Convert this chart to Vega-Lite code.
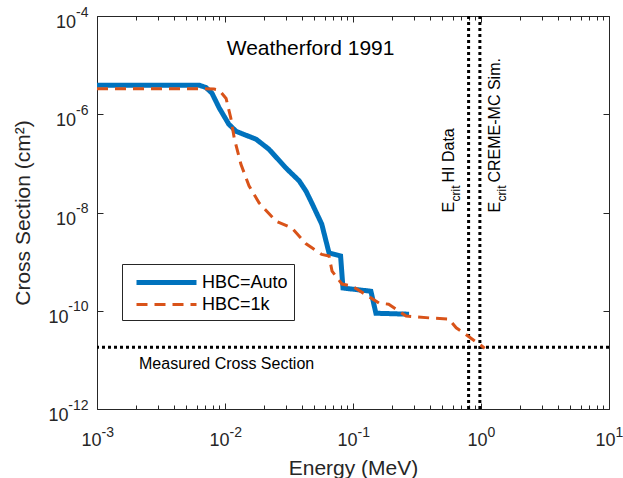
{
  "$schema": "https://vega.github.io/schema/vega-lite/v6.json",
  "width": 512,
  "height": 393,
  "padding": {"left": 12, "top": 5, "right": 5, "bottom": 0},
  "background": "white",
  "config": {
    "view": {"stroke": "#262626", "strokeWidth": 1},
    "font": "Liberation Sans",
    "axis": {
      "grid": false, "domain": false, "labelColor": "#262626", "titleColor": "#262626",
      "tickColor": "#262626", "labelFont": "Liberation Sans", "titleFont": "Liberation Sans",
      "titleFontWeight": "normal", "labelFlush": false, "labelOverlap": false, "labelBound": false
    },
    "legend": {
      "labelFont": "Liberation Sans", "labelFontSize": 18, "labelColor": "#000000",
      "labelOffset": 49, "padding": 6, "rowPadding": 0, "strokeColor": "#262626",
      "fillColor": "white", "labelLimit": 0
    }
  },
  "datasets": {
    "series": [
      {"series": "HBC=Auto", "E": 0.001, "S": 3.9e-6},
      {"series": "HBC=Auto", "E": 0.0063, "S": 3.9e-6},
      {"series": "HBC=Auto", "E": 0.0071, "S": 3.5e-6},
      {"series": "HBC=Auto", "E": 0.0079, "S": 2.7e-6},
      {"series": "HBC=Auto", "E": 0.009, "S": 1.35e-6},
      {"series": "HBC=Auto", "E": 0.0107, "S": 6.3e-7},
      {"series": "HBC=Auto", "E": 0.0122, "S": 4.5e-7},
      {"series": "HBC=Auto", "E": 0.0175, "S": 3.1e-7},
      {"series": "HBC=Auto", "E": 0.022, "S": 1.95e-7},
      {"series": "HBC=Auto", "E": 0.03, "S": 8.0e-8},
      {"series": "HBC=Auto", "E": 0.038, "S": 4.4e-8},
      {"series": "HBC=Auto", "E": 0.043, "S": 2.7e-8},
      {"series": "HBC=Auto", "E": 0.048, "S": 1.5e-8},
      {"series": "HBC=Auto", "E": 0.057, "S": 5.8e-9},
      {"series": "HBC=Auto", "E": 0.065, "S": 1.5e-9},
      {"series": "HBC=Auto", "E": 0.08, "S": 1.3e-9},
      {"series": "HBC=Auto", "E": 0.0835, "S": 2.9e-10},
      {"series": "HBC=Auto", "E": 0.138, "S": 2.5e-10},
      {"series": "HBC=Auto", "E": 0.151, "S": 8.9e-11},
      {"series": "HBC=Auto", "E": 0.274, "S": 8.5e-11},
      {"series": "HBC=1k", "E": 0.001, "S": 3.3e-6},
      {"series": "HBC=1k", "E": 0.0069, "S": 3.3e-6},
      {"series": "HBC=1k", "E": 0.0082, "S": 3.25e-6},
      {"series": "HBC=1k", "E": 0.009, "S": 3.1e-6},
      {"series": "HBC=1k", "E": 0.0102, "S": 2.1e-6},
      {"series": "HBC=1k", "E": 0.0111, "S": 8.4e-7},
      {"series": "HBC=1k", "E": 0.0118, "S": 3.3e-7},
      {"series": "HBC=1k", "E": 0.0133, "S": 9.7e-8},
      {"series": "HBC=1k", "E": 0.0154, "S": 3.5e-8},
      {"series": "HBC=1k", "E": 0.0185, "S": 1.56e-8},
      {"series": "HBC=1k", "E": 0.025, "S": 6.7e-9},
      {"series": "HBC=1k", "E": 0.0334, "S": 4.8e-9},
      {"series": "HBC=1k", "E": 0.043, "S": 2.3e-9},
      {"series": "HBC=1k", "E": 0.057, "S": 1.4e-9},
      {"series": "HBC=1k", "E": 0.065, "S": 1.3e-9},
      {"series": "HBC=1k", "E": 0.0686, "S": 6.4e-10},
      {"series": "HBC=1k", "E": 0.082, "S": 3.5e-10},
      {"series": "HBC=1k", "E": 0.098, "S": 3.2e-10},
      {"series": "HBC=1k", "E": 0.16, "S": 1.43e-10},
      {"series": "HBC=1k", "E": 0.19, "S": 1.36e-10},
      {"series": "HBC=1k", "E": 0.26, "S": 7.8e-11},
      {"series": "HBC=1k", "E": 0.41, "S": 7.1e-11},
      {"series": "HBC=1k", "E": 0.56, "S": 6.8e-11},
      {"series": "HBC=1k", "E": 0.64, "S": 4.5e-11},
      {"series": "HBC=1k", "E": 0.76, "S": 3.3e-11},
      {"series": "HBC=1k", "E": 0.965, "S": 2.1e-11},
      {"series": "HBC=1k", "E": 1.07, "S": 1.73e-11}
    ],
    "vlines": [
      {"E": 0.8, "label": "HI Data"},
      {"E": 0.98, "label": "CREME-MC Sim."}
    ],
    "hline": [
      {"S": 1.8e-11, "label": "Measured Cross Section"}
    ]
  },
  "layer": [
    {
      "data": {"name": "hline"},
      "mark": {"type": "rule", "strokeDash": [3, 3], "strokeWidth": 3, "color": "#000000"},
      "encoding": {
        "y": {
          "field": "S", "type": "quantitative",
          "scale": {"type": "log", "domain": [1e-12, 1e-4]},
          "axis": {
            "orient": "left", "values": [1e-12, 1e-10, 1e-8, 1e-6, 1e-4],
            "labelExpr": "'' + round(log(datum.value)/LN10)",
            "labelFontSize": 14, "labelBaseline": "alphabetic", "labelAlign": "right",
            "labelPadding": 9, "ticks": false, "tickSize": 0, "title": null
          }
        }
      }
    },
    {
      "data": {"name": "vlines"},
      "mark": {"type": "rule", "strokeDash": [3, 3], "strokeWidth": 3, "color": "#000000"},
      "encoding": {
        "x": {
          "field": "E", "type": "quantitative",
          "scale": {"type": "log", "domain": [0.001, 10]},
          "axis": {
            "orient": "bottom", "values": [0.001, 0.01, 0.1, 1, 10],
            "labelExpr": "'' + round(log(datum.value)/LN10)",
            "labelFontSize": 14, "labelBaseline": "alphabetic", "labelAlign": "left",
            "labelOffset": {"condition": {"test": "datum.value < 0.5", "value": 4}, "value": 6},
            "labelPadding": 27, "ticks": false, "tickSize": 0, "title": null
          }
        }
      }
    },
    {
      "data": {"name": "series"},
      "mark": {"type": "line", "clip": true},
      "encoding": {
        "x": {
          "field": "E", "type": "quantitative",
          "scale": {"type": "log", "domain": [0.001, 10]},
          "axis": {
            "orient": "bottom", "values": [0.001, 0.01, 0.1, 1, 10],
            "labelExpr": "'10'", "labelFontSize": 18, "labelBaseline": "alphabetic",
            "labelOffset": {"condition": {"test": "datum.value < 0.5", "value": -6}, "value": -4},
            "labelPadding": 36, "ticks": false, "tickSize": 0,
            "title": "Energy (MeV)", "titleFontSize": 21, "titlePadding": 8
          }
        },
        "y": {
          "field": "S", "type": "quantitative",
          "scale": {"type": "log", "domain": [1e-12, 1e-4]},
          "axis": {
            "orient": "left", "values": [1e-12, 1e-10, 1e-8, 1e-6, 1e-4],
            "labelExpr": "'10'", "labelFontSize": 18, "labelBaseline": "alphabetic",
            "labelAlign": "right", "labelOffset": 11.5,
            "labelPadding": {"condition": {"test": "datum.value < 1e-9", "value": 29}, "value": 21.5},
            "ticks": false, "tickSize": 0,
            "title": "Cross Section (cm²)", "titleFontSize": 21, "titlePadding": 14
          }
        },
        "color": {
          "field": "series", "type": "nominal",
          "scale": {"domain": ["HBC=Auto", "HBC=1k"], "range": ["#0072BD", "#D95319"]},
          "legend": {"orient": "none", "legendX": 25, "legendY": 248, "title": null, "symbolType": "M-0.4,0H5.6", "symbolSize": 400}
        },
        "strokeDash": {
          "field": "series", "type": "nominal",
          "scale": {"domain": ["HBC=Auto", "HBC=1k"], "range": [[1, 0], [11, 7]]},
          "legend": {"orient": "none", "legendX": 25, "legendY": 248, "title": null, "symbolType": "M-0.4,0H5.6", "symbolSize": 400}
        },
        "strokeWidth": {
          "field": "series", "type": "nominal",
          "scale": {"domain": ["HBC=Auto", "HBC=1k"], "range": [5, 3]},
          "legend": {"orient": "none", "legendX": 25, "legendY": 248, "title": null, "symbolType": "M-0.4,0H5.6", "symbolSize": 400}
        }
      }
    },
    {
      "data": {"name": "hline"},
      "mark": {"type": "text", "text": "Weatherford 1991", "fontSize": 21, "align": "center", "baseline": "alphabetic", "color": "#000000"},
      "encoding": {
        "x": {
          "datum": 0.0466, "type": "quantitative",
          "scale": {"type": "log", "domain": [0.001, 10]},
          "axis": {
            "orient": "top",
            "values": [0.001,0.002,0.003,0.004,0.005,0.006,0.007,0.008,0.009,0.01,0.02,0.03,0.04,0.05,0.06,0.07,0.08,0.09,0.1,0.2,0.3,0.4,0.5,0.6,0.7,0.8,0.9,1,2,3,4,5,6,7,8,9,10],
            "labels": false, "ticks": true,
            "tickSize": {"condition": {"test": "abs(log(datum.value)/LN10 - round(log(datum.value)/LN10)) < 0.01", "value": -6}, "value": -4},
            "title": null
          }
        },
        "y": {
          "datum": 1.6e-5, "type": "quantitative",
          "scale": {"type": "log", "domain": [1e-12, 1e-4]},
          "axis": {
            "orient": "right", "values": [1e-12, 1e-10, 1e-8, 1e-6, 1e-4],
            "labels": false, "ticks": true, "tickSize": -6, "title": null
          }
        }
      }
    },
    {
      "data": {"name": "hline"},
      "mark": {"type": "text", "fontSize": 16, "align": "left", "baseline": "alphabetic", "dy": 22, "color": "#000000"},
      "encoding": {
        "text": {"field": "label"},
        "x": {
          "datum": 0.00213, "type": "quantitative",
          "scale": {"type": "log", "domain": [0.001, 10]},
          "axis": {
            "orient": "bottom",
            "values": [0.001,0.002,0.003,0.004,0.005,0.006,0.007,0.008,0.009,0.01,0.02,0.03,0.04,0.05,0.06,0.07,0.08,0.09,0.1,0.2,0.3,0.4,0.5,0.6,0.7,0.8,0.9,1,2,3,4,5,6,7,8,9,10],
            "labels": false, "ticks": true,
            "tickSize": {"condition": {"test": "abs(log(datum.value)/LN10 - round(log(datum.value)/LN10)) < 0.01", "value": -6}, "value": -4},
            "title": null
          }
        },
        "y": {
          "field": "S", "type": "quantitative",
          "scale": {"type": "log", "domain": [1e-12, 1e-4]},
          "axis": {
            "orient": "left", "values": [1e-12, 1e-10, 1e-8, 1e-6, 1e-4],
            "labels": false, "ticks": true, "tickSize": -6, "title": null
          }
        }
      }
    },
    {
      "data": {"name": "vlines"},
      "transform": [{"filter": "datum.E < 0.9"}],
      "mark": {"type": "text", "text": "E", "fontSize": 16, "angle": 270, "align": "left", "baseline": "alphabetic", "dy": -15, "color": "#000000"},
      "encoding": {
        "x": {"field": "E", "type": "quantitative", "scale": {"type": "log", "domain": [0.001, 10]}, "axis": null},
        "y": {"datum": 1e-8, "type": "quantitative", "scale": {"type": "log", "domain": [1e-12, 1e-4]}, "axis": null}
      }
    },
    {
      "data": {"name": "vlines"},
      "transform": [{"filter": "datum.E < 0.9"}],
      "mark": {"type": "text", "text": "crit", "fontSize": 12, "angle": 270, "align": "left", "baseline": "alphabetic", "dx": 11, "dy": -8.5, "color": "#000000"},
      "encoding": {
        "x": {"field": "E", "type": "quantitative", "scale": {"type": "log", "domain": [0.001, 10]}, "axis": null},
        "y": {"datum": 1e-8, "type": "quantitative", "scale": {"type": "log", "domain": [1e-12, 1e-4]}, "axis": null}
      }
    },
    {
      "data": {"name": "vlines"},
      "transform": [{"filter": "datum.E < 0.9"}],
      "mark": {"type": "text", "fontSize": 16, "angle": 270, "align": "left", "baseline": "alphabetic", "dx": 30, "dy": -15, "color": "#000000"},
      "encoding": {
        "text": {"field": "label"},
        "x": {"field": "E", "type": "quantitative", "scale": {"type": "log", "domain": [0.001, 10]}, "axis": null},
        "y": {"datum": 1e-8, "type": "quantitative", "scale": {"type": "log", "domain": [1e-12, 1e-4]}, "axis": null}
      }
    },
    {
      "data": {"name": "vlines"},
      "transform": [{"filter": "datum.E > 0.9"}],
      "mark": {"type": "text", "text": "E", "fontSize": 16, "angle": 270, "align": "left", "baseline": "alphabetic", "dy": 20, "color": "#000000"},
      "encoding": {
        "x": {"field": "E", "type": "quantitative", "scale": {"type": "log", "domain": [0.001, 10]}, "axis": null},
        "y": {"datum": 1e-8, "type": "quantitative", "scale": {"type": "log", "domain": [1e-12, 1e-4]}, "axis": null}
      }
    },
    {
      "data": {"name": "vlines"},
      "transform": [{"filter": "datum.E > 0.9"}],
      "mark": {"type": "text", "text": "crit", "fontSize": 12, "angle": 270, "align": "left", "baseline": "alphabetic", "dx": 11, "dy": 26.5, "color": "#000000"},
      "encoding": {
        "x": {"field": "E", "type": "quantitative", "scale": {"type": "log", "domain": [0.001, 10]}, "axis": null},
        "y": {"datum": 1e-8, "type": "quantitative", "scale": {"type": "log", "domain": [1e-12, 1e-4]}, "axis": null}
      }
    },
    {
      "data": {"name": "vlines"},
      "transform": [{"filter": "datum.E > 0.9"}],
      "mark": {"type": "text", "fontSize": 16, "angle": 270, "align": "left", "baseline": "alphabetic", "dx": 30, "dy": 20, "color": "#000000"},
      "encoding": {
        "text": {"field": "label"},
        "x": {"field": "E", "type": "quantitative", "scale": {"type": "log", "domain": [0.001, 10]}, "axis": null},
        "y": {"datum": 1e-8, "type": "quantitative", "scale": {"type": "log", "domain": [1e-12, 1e-4]}, "axis": null}
      }
    }
  ],
  "resolve": {"axis": {"x": "independent", "y": "independent"}}
}
